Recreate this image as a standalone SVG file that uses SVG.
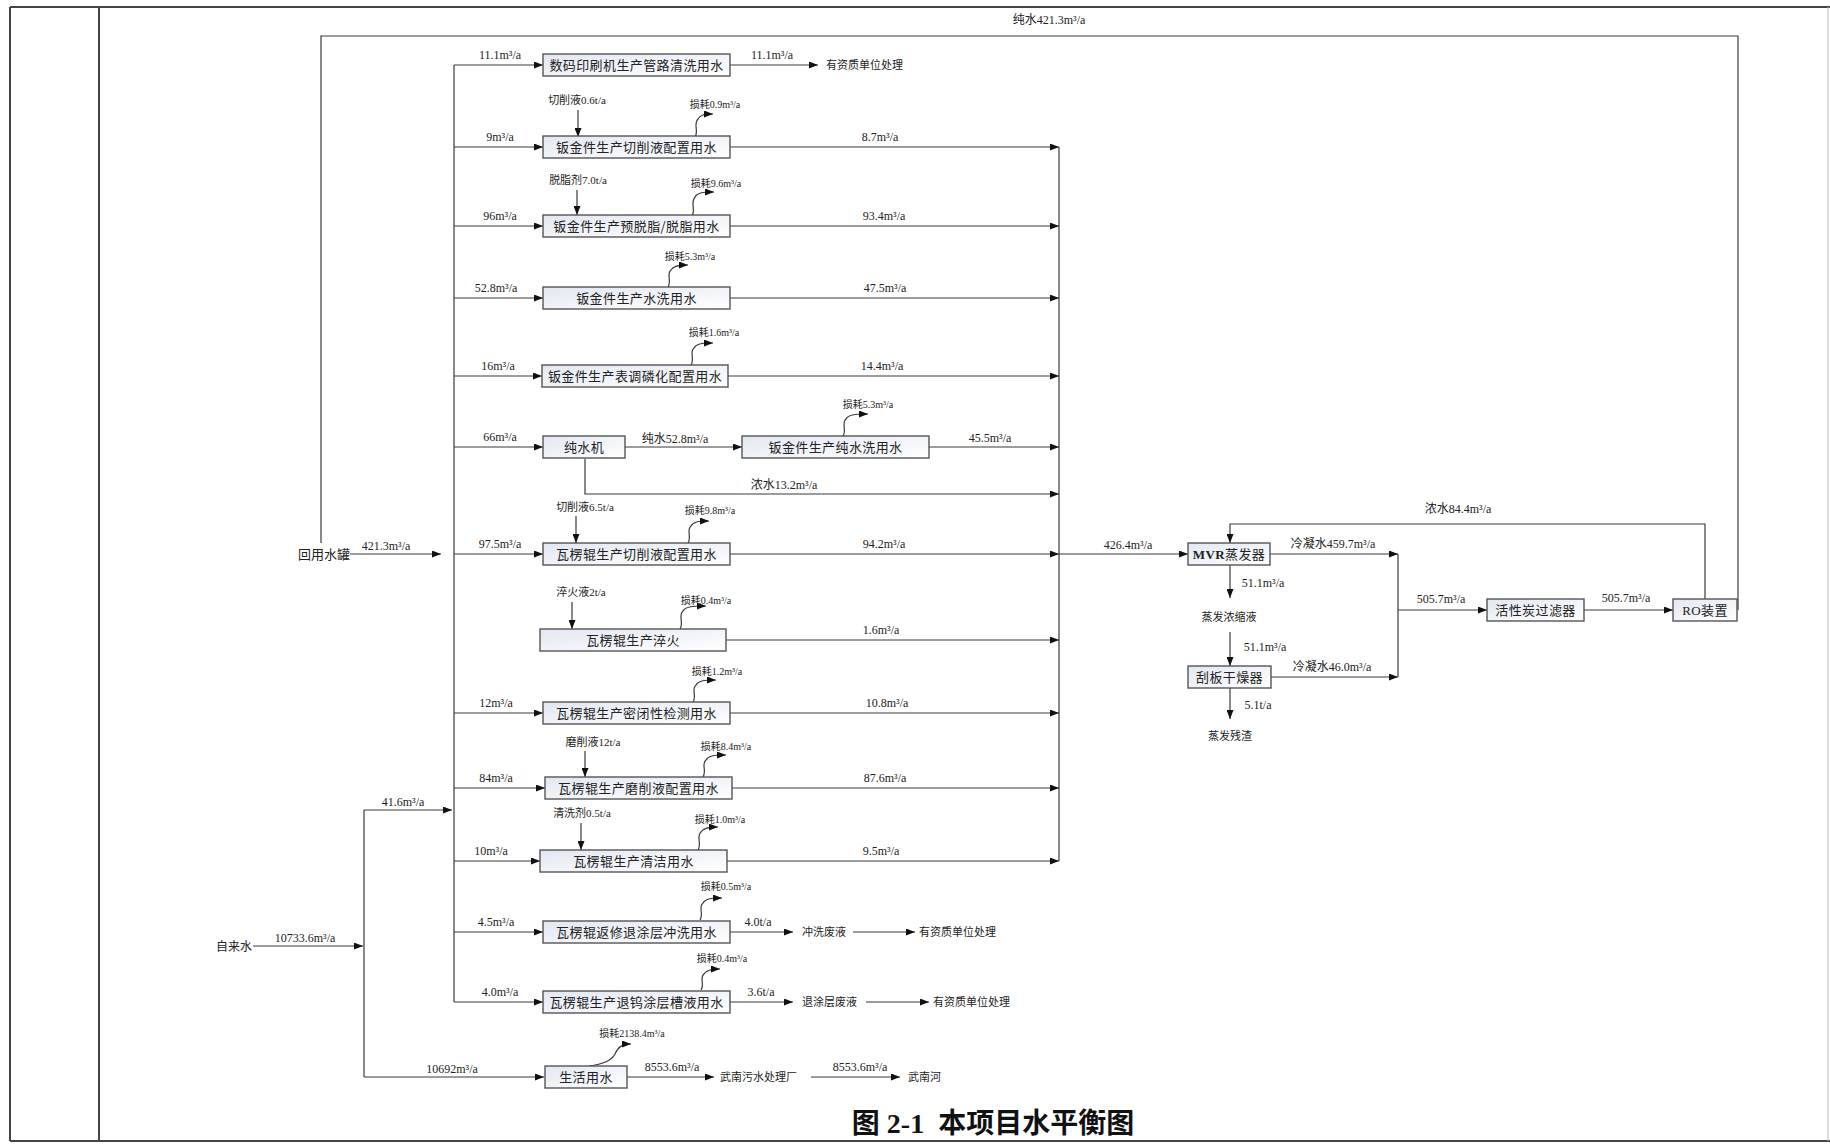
<svg xmlns="http://www.w3.org/2000/svg" width="1830" height="1144" viewBox="0 0 1830 1144">
<defs>
<linearGradient id="bg" x1="0" y1="0" x2="1" y2="1">
<stop offset="0" stop-color="#e2e7f1"/>
<stop offset="1" stop-color="#ffffff"/>
</linearGradient>
<marker id="ah" markerUnits="userSpaceOnUse" markerWidth="9" markerHeight="7" refX="9" refY="3.5" orient="auto">
<path d="M0,0 L9,3.5 L0,7 z" fill="#111"/>
</marker>
<style>
.fr{stroke:#444;stroke-width:2;fill:none}
.ln{stroke:#3a3a3a;stroke-width:1.2;fill:none}
.ar{marker-end:url(#ah)}
.box{fill:url(#bg);stroke:#555;stroke-width:1.4}
.bt{font-family:"Noto Sans CJK SC","Noto Sans",sans-serif;font-size:13px;text-anchor:middle;fill:#222;letter-spacing:0.4px}
.lb{font-family:"Liberation Serif","Noto Sans CJK SC",serif;font-size:12px;text-anchor:middle;fill:#222}
.ls{font-family:"Liberation Serif","Noto Sans CJK SC",serif;font-size:10px;text-anchor:middle;fill:#222}
.ch{font-family:"Liberation Serif","Noto Sans CJK SC",serif;font-size:11px;text-anchor:middle;fill:#222}
.cj{font-family:"Noto Sans CJK SC",sans-serif;font-size:11px;fill:#222}
.cm{text-anchor:middle}
.big{font-size:13px}
.mid{font-size:12px}
.tt{font-family:"Liberation Serif","Noto Sans CJK SC",serif;font-size:28px;font-weight:bold;text-anchor:middle;fill:#111}
</style>
</defs>
<rect width="1830" height="1144" fill="#fff"/>
<g id="frame">
<line class="fr" x1="10" y1="7" x2="1830" y2="7"/>
<line class="fr" x1="10" y1="7" x2="10" y2="1141"/>
<line class="fr" x1="99" y1="7" x2="99" y2="1141"/>
<line class="fr" x1="10" y1="1141" x2="1830" y2="1141"/>
<line x1="1828" y1="7" x2="1828" y2="1141" stroke="#bbb" stroke-width="1"/>
</g>

<g id="connectors">
<polyline class="ln" points="1738,610 1738,36 321,36 321,543"/>
<line class="ln ar" x1="350" y1="554" x2="441" y2="554"/>
<line class="ln ar" x1="253" y1="946" x2="363" y2="946"/>
<line class="ln" x1="364" y1="810" x2="364" y2="1077"/>
<line class="ln ar" x1="364" y1="810" x2="452" y2="810"/>
<line class="ln ar" x1="364" y1="1077" x2="544" y2="1077"/>
<line class="ln" x1="454" y1="65" x2="454" y2="1002"/>
<line class="ln ar" x1="454" y1="65" x2="543" y2="65"/>
<line class="ln ar" x1="454" y1="147" x2="543" y2="147"/>
<line class="ln ar" x1="454" y1="226" x2="543" y2="226"/>
<line class="ln ar" x1="454" y1="298" x2="543" y2="298"/>
<line class="ln ar" x1="454" y1="376" x2="542" y2="376"/>
<line class="ln ar" x1="454" y1="447" x2="543" y2="447"/>
<line class="ln ar" x1="454" y1="554" x2="543" y2="554"/>
<line class="ln ar" x1="454" y1="713" x2="543" y2="713"/>
<line class="ln ar" x1="454" y1="788" x2="545" y2="788"/>
<line class="ln ar" x1="454" y1="861" x2="540" y2="861"/>
<line class="ln ar" x1="454" y1="932" x2="543" y2="932"/>
<line class="ln ar" x1="454" y1="1002" x2="543" y2="1002"/>
<line class="ln ar" x1="730" y1="65" x2="818" y2="65"/>
<line class="ln ar" x1="730" y1="147" x2="1059" y2="147"/>
<line class="ln ar" x1="730" y1="226" x2="1059" y2="226"/>
<line class="ln ar" x1="730" y1="298" x2="1059" y2="298"/>
<line class="ln ar" x1="728" y1="376" x2="1059" y2="376"/>
<line class="ln ar" x1="625" y1="447" x2="742" y2="447"/>
<line class="ln ar" x1="929" y1="447" x2="1059" y2="447"/>
<polyline class="ln ar" points="585,459 585,494 1059,494"/>
<line class="ln ar" x1="730" y1="554" x2="1059" y2="554"/>
<line class="ln ar" x1="726" y1="640" x2="1059" y2="640"/>
<line class="ln ar" x1="730" y1="713" x2="1059" y2="713"/>
<line class="ln ar" x1="732" y1="788" x2="1059" y2="788"/>
<line class="ln ar" x1="727" y1="861" x2="1059" y2="861"/>
<line class="ln ar" x1="730" y1="932" x2="793" y2="932"/>
<line class="ln ar" x1="853" y1="932" x2="915" y2="932"/>
<line class="ln ar" x1="730" y1="1002" x2="793" y2="1002"/>
<line class="ln ar" x1="866" y1="1002" x2="929" y2="1002"/>
<line class="ln ar" x1="627" y1="1077" x2="714" y2="1077"/>
<line class="ln ar" x1="811" y1="1077" x2="900" y2="1077"/>
<line class="ln" x1="1059" y1="147" x2="1059" y2="861"/>
<line class="ln ar" x1="1059" y1="554" x2="1188" y2="554"/>
<line class="ln ar" x1="578" y1="110" x2="578" y2="137"/>
<line class="ln ar" x1="577" y1="190" x2="577" y2="215"/>
<line class="ln ar" x1="576" y1="516" x2="576" y2="543"/>
<line class="ln ar" x1="572" y1="602" x2="572" y2="629"/>
<line class="ln ar" x1="585" y1="751" x2="585" y2="777"/>
<line class="ln ar" x1="581" y1="823" x2="581" y2="850"/>
<path class="ln ar" d="M695,137 C699,131 693,124 698,119 C700,115 704,114 713,114"/>
<path class="ln ar" d="M692,216 C696,210 690,203 695,197 C697,193 702,192 714,192"/>
<path class="ln ar" d="M668,287 C672,281 666,274 671,270 C673,266 678,265 688,265"/>
<path class="ln ar" d="M691,365 C695,359 689,352 694,348 C696,344 701,343 713,343"/>
<path class="ln ar" d="M843,436 C847,430 841,423 846,419 C848,415 854,414 868,414"/>
<path class="ln ar" d="M688,543 C692,537 686,530 691,526 C693,522 698,521 709,521"/>
<path class="ln ar" d="M680,629 C684,623 678,615 683,611 C685,607 691,606 706,606"/>
<path class="ln ar" d="M693,702 C697,696 691,689 696,685 C698,681 703,680 716,680"/>
<path class="ln ar" d="M703,777 C707,771 701,764 706,760 C708,756 713,755 726,755"/>
<path class="ln ar" d="M698,850 C702,844 696,836 701,832 C703,828 708,827 718,827"/>
<path class="ln ar" d="M700,920 C704,914 698,907 703,903 C705,899 710,898 722,898"/>
<path class="ln ar" d="M701,990 C705,984 699,978 704,974 C706,970 711,969 720,969"/>
<path class="ln ar" d="M589,1066 C605,1064 612,1060 615,1054 C618,1047 622,1044 631,1044"/>
<line class="ln ar" x1="1270" y1="554" x2="1398" y2="554"/>
<line class="ln" x1="1398" y1="554" x2="1398" y2="677"/>
<line class="ln ar" x1="1271" y1="677" x2="1398" y2="677"/>
<line class="ln ar" x1="1398" y1="610" x2="1487" y2="610"/>
<line class="ln ar" x1="1584" y1="610" x2="1673" y2="610"/>
<polyline class="ln ar" points="1705,599 1705,524 1230,524 1230,543"/>
<line class="ln ar" x1="1230" y1="565" x2="1230" y2="598"/>
<line class="ln ar" x1="1230" y1="632" x2="1230" y2="666"/>
<line class="ln ar" x1="1230" y1="687" x2="1230" y2="719"/>
</g>

<g id="n-pipe"><rect class="box" x="543" y="54" width="187" height="22"/><text class="bt" x="636.5" y="70">数码印刷机生产管路清洗用水</text></g>
<g id="n-cut"><rect class="box" x="543" y="136" width="187" height="22"/><text class="bt" x="636.5" y="152">钣金件生产切削液配置用水</text></g>
<g id="n-degrease"><rect class="box" x="543" y="215" width="187" height="22"/><text class="bt" x="636.5" y="231">钣金件生产预脱脂/脱脂用水</text></g>
<g id="n-wash"><rect class="box" x="543" y="287" width="187" height="22"/><text class="bt" x="636.5" y="303">钣金件生产水洗用水</text></g>
<g id="n-phos"><rect class="box" x="542" y="365" width="186" height="22"/><text class="bt" x="635" y="381">钣金件生产表调磷化配置用水</text></g>
<g id="n-purifier"><rect class="box" x="543" y="436" width="82" height="22"/><text class="bt" x="584" y="452">纯水机</text></g>
<g id="n-purewash"><rect class="box" x="742" y="436" width="187" height="22"/><text class="bt" x="835.5" y="452">钣金件生产纯水洗用水</text></g>
<g id="n-rollcut"><rect class="box" x="543" y="543" width="187" height="22"/><text class="bt" x="636.5" y="559">瓦楞辊生产切削液配置用水</text></g>
<g id="n-quench"><rect class="box" x="540" y="629" width="186" height="22"/><text class="bt" x="633" y="645">瓦楞辊生产淬火</text></g>
<g id="n-seal"><rect class="box" x="543" y="702" width="187" height="22"/><text class="bt" x="636.5" y="718">瓦楞辊生产密闭性检测用水</text></g>
<g id="n-grind"><rect class="box" x="545" y="777" width="187" height="22"/><text class="bt" x="638.5" y="793">瓦楞辊生产磨削液配置用水</text></g>
<g id="n-clean"><rect class="box" x="540" y="850" width="187" height="22"/><text class="bt" x="633.5" y="866">瓦楞辊生产清洁用水</text></g>
<g id="n-repair"><rect class="box" x="543" y="921" width="187" height="22"/><text class="bt" x="636.5" y="937">瓦楞辊返修退涂层冲洗用水</text></g>
<g id="n-tungsten"><rect class="box" x="543" y="991" width="187" height="22"/><text class="bt" x="636.5" y="1007">瓦楞辊生产退钨涂层槽液用水</text></g>
<g id="n-domestic"><rect class="box" x="545" y="1066" width="82" height="22"/><text class="bt" x="586" y="1082">生活用水</text></g>
<g id="n-mvr"><rect class="box" x="1188" y="543" width="82" height="22"/><text class="bt" x="1229" y="559"><tspan font-family="Liberation Serif" font-weight="bold">MVR</tspan>蒸发器</text></g>
<g id="n-scraper"><rect class="box" x="1188" y="666" width="83" height="22"/><text class="bt" x="1229.5" y="682">刮板干燥器</text></g>
<g id="n-carbon"><rect class="box" x="1487" y="599" width="97" height="22"/><text class="bt" x="1535.5" y="615">活性炭过滤器</text></g>
<g id="n-ro"><rect class="box" x="1673" y="599" width="64" height="22"/><text class="bt" x="1705" y="615"><tspan font-family="Liberation Serif">RO</tspan>装置</text></g>
<g id="n-tank"><text class="cj cm big" x="324" y="559">回用水罐</text></g>
<g id="n-tap"><text class="cj cm mid" x="234" y="951">自来水</text></g>
<g id="n-out"><text class="cj" x="826" y="69">有资质单位处理</text>
<text class="cj" x="802" y="936">冲洗废液</text><text class="cj" x="919" y="936">有资质单位处理</text>
<text class="cj" x="802" y="1006">退涂层废液</text><text class="cj" x="933" y="1006">有资质单位处理</text>
<text class="cj" x="720" y="1081">武南污水处理厂</text><text class="cj" x="908" y="1081">武南河</text>
<text class="cj cm" x="1229" y="621">蒸发浓缩液</text>
<text class="cj cm" x="1230" y="740">蒸发残渣</text></g>

<g id="labels">
<text class="lb" x="1049" y="24">纯水421.3m³/a</text>
<text class="lb" x="386" y="550">421.3m³/a</text>
<text class="lb" x="403" y="806">41.6m³/a</text>
<text class="lb" x="305" y="942">10733.6m³/a</text>
<text class="lb" x="452" y="1073">10692m³/a</text>
<text class="lb" x="500" y="59">11.1m³/a</text>
<text class="lb" x="500" y="141">9m³/a</text>
<text class="lb" x="500" y="220">96m³/a</text>
<text class="lb" x="496" y="292">52.8m³/a</text>
<text class="lb" x="498" y="370">16m³/a</text>
<text class="lb" x="500" y="441">66m³/a</text>
<text class="lb" x="500" y="548">97.5m³/a</text>
<text class="lb" x="496" y="707">12m³/a</text>
<text class="lb" x="496" y="782">84m³/a</text>
<text class="lb" x="491" y="855">10m³/a</text>
<text class="lb" x="496" y="926">4.5m³/a</text>
<text class="lb" x="500" y="996">4.0m³/a</text>
<text class="lb" x="772" y="59">11.1m³/a</text>
<text class="lb" x="880" y="141">8.7m³/a</text>
<text class="lb" x="884" y="220">93.4m³/a</text>
<text class="lb" x="885" y="292">47.5m³/a</text>
<text class="lb" x="882" y="370">14.4m³/a</text>
<text class="lb" x="675" y="443">纯水52.8m³/a</text>
<text class="lb" x="990" y="442">45.5m³/a</text>
<text class="lb" x="784" y="489">浓水13.2m³/a</text>
<text class="lb" x="884" y="548">94.2m³/a</text>
<text class="lb" x="881" y="634">1.6m³/a</text>
<text class="lb" x="887" y="707">10.8m³/a</text>
<text class="lb" x="885" y="782">87.6m³/a</text>
<text class="lb" x="881" y="855">9.5m³/a</text>
<text class="lb" x="758" y="926">4.0t/a</text>
<text class="lb" x="761" y="996">3.6t/a</text>
<text class="lb" x="672" y="1071">8553.6m³/a</text>
<text class="lb" x="860" y="1071">8553.6m³/a</text>
<text class="lb" x="1128" y="549">426.4m³/a</text>
<text class="lb" x="1333" y="548">冷凝水459.7m³/a</text>
<text class="lb" x="1332" y="671">冷凝水46.0m³/a</text>
<text class="lb" x="1441" y="603">505.7m³/a</text>
<text class="lb" x="1626" y="602">505.7m³/a</text>
<text class="lb" x="1458" y="513">浓水84.4m³/a</text>
<text class="lb" x="1263" y="587">51.1m³/a</text>
<text class="lb" x="1265" y="651">51.1m³/a</text>
<text class="lb" x="1258" y="709">5.1t/a</text>
<text class="ch" x="577" y="104">切削液0.6t/a</text>
<text class="ch" x="578" y="184">脱脂剂7.0t/a</text>
<text class="ch" x="585" y="511">切削液6.5t/a</text>
<text class="ch" x="581" y="596">淬火液2t/a</text>
<text class="ch" x="593" y="746">磨削液12t/a</text>
<text class="ch" x="582" y="817">清洗剂0.5t/a</text>
<text class="ls" x="715" y="108">损耗0.9m³/a</text>
<text class="ls" x="716" y="187">损耗9.6m³/a</text>
<text class="ls" x="690" y="260">损耗5.3m³/a</text>
<text class="ls" x="714" y="336">损耗1.6m³/a</text>
<text class="ls" x="868" y="408">损耗5.3m³/a</text>
<text class="ls" x="710" y="514">损耗9.8m³/a</text>
<text class="ls" x="706" y="604">损耗0.4m³/a</text>
<text class="ls" x="717" y="675">损耗1.2m³/a</text>
<text class="ls" x="726" y="750">损耗8.4m³/a</text>
<text class="ls" x="720" y="823">损耗1.0m³/a</text>
<text class="ls" x="726" y="890">损耗0.5m³/a</text>
<text class="ls" x="722" y="962">损耗0.4m³/a</text>
<text class="ls" x="632" y="1037">损耗2138.4m³/a</text>
</g>
<text class="tt" x="993" y="1133">图 2-1&#160;&#160;本项目水平衡图</text>
</svg>
